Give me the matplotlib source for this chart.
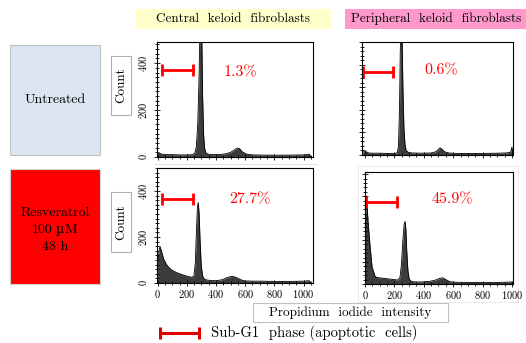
import numpy as np
import matplotlib
matplotlib.use("Agg")
import matplotlib.pyplot as plt
from matplotlib.patches import Rectangle
from matplotlib.ticker import MultipleLocator

plt.rcParams['font.family'] = ['cmr10', 'DejaVu Serif']
plt.rcParams['axes.formatter.use_mathtext'] = True

W, H = 526, 343

# PI histograms (channel, count)
central_ctrl_x = [0, 10, 30, 60, 100, 150, 200, 240, 255, 265, 275, 283, 290, 295, 302, 308, 315, 322,
                  330, 345, 380, 430, 470, 500, 525, 545, 560, 580, 610, 650, 720, 800, 900, 1000, 1040, 1050]
central_ctrl_y = [12, 16, 12, 10, 10, 9, 9, 10, 18, 45, 150, 330, 560, 600, 520, 250, 90, 35,
                  18, 12, 10, 11, 14, 20, 30, 38, 36, 22, 12, 9, 8, 8, 8, 9, 12, 0]

periph_ctrl_x = [-15, 0, 10, 25, 50, 100, 150, 200, 220, 228, 235, 240, 245, 252, 258, 265, 272, 280,
                 295, 320, 380, 450, 480, 500, 510, 520, 540, 570, 620, 700, 800, 900, 960, 990, 1000, 1005]
periph_ctrl_y = [10, 20, 14, 9, 8, 8, 7, 7, 10, 40, 200, 450, 600, 560, 300, 120, 50, 20,
                 12, 9, 8, 9, 14, 25, 32, 28, 15, 9, 7, 7, 7, 8, 9, 12, 35, 0]

central_resv_x = [0, 5, 15, 25, 40, 60, 80, 100, 130, 160, 200, 230, 248, 258, 265, 272, 278, 284, 290,
                  298, 306, 315, 330, 360, 400, 440, 470, 500, 520, 545, 570, 600, 650, 700, 800, 900,
                  1000, 1040, 1050]
central_resv_y = [0, 120, 160, 140, 105, 80, 65, 55, 45, 38, 30, 25, 30, 90, 220, 330, 350, 300, 190,
                  80, 35, 20, 14, 11, 10, 14, 22, 28, 28, 22, 14, 9, 8, 8, 7, 7, 8, 10, 0]

periph_resv_x = [0, 3, 8, 12, 20, 35, 48, 68, 80, 100, 150, 200, 225, 238, 248, 258, 266, 272, 278, 284,
                 292, 300, 310, 330, 380, 440, 480, 510, 530, 550, 580, 620, 700, 800, 900, 1000, 1005]
periph_resv_y = [0, 300, 400, 380, 290, 168, 77, 36, 30, 28, 24, 20, 18, 30, 90, 200, 270, 285, 250, 150,
                 60, 25, 14, 10, 9, 12, 18, 26, 28, 20, 10, 8, 7, 7, 7, 9, 0]

subg1_pct = ['1.3%', '0.6%', '27.7%', '45.9%']

fig = plt.figure(figsize=(W / 100, H / 100), dpi=100)


def box(x0, y0, x1, y1):
    return [x0 / W, 1 - y1 / H, (x1 - x0) / W, (y1 - y0) / H]


# background layer in pixel coordinates
bg = fig.add_axes([0, 0, 1, 1])
bg.set_xlim(0, W)
bg.set_ylim(H, 0)
bg.axis('off')


def label_box(x0, y0, x1, y1, fc, ec, text, size, rot=0, ls=1.2):
    bg.add_patch(Rectangle((x0, y0), x1 - x0, y1 - y0, facecolor=fc, edgecolor=ec, lw=0.8))
    if text:
        bg.text((x0 + x1) / 2, (y0 + y1) / 2, text, ha='center', va='center', fontsize=size,
                rotation=rot, linespacing=ls)


label_box(136, 9, 331, 29, '#ffffcc', 'none', 'Central  keloid  fibroblasts', 9.5)
label_box(345, 9, 527, 29, '#ff99cc', 'none', 'Peripheral  keloid  fibroblasts', 9.5)
label_box(10, 45, 100, 155, '#dbe5f1', '#c0c0c0', 'Untreated', 10)
label_box(10, 169, 100, 284, '#ff0000', '#d0d0d0', '', 10)
bg.text(55, 216, 'Resveratrol', ha='center', va='baseline', fontsize=10)
bg.text(53, 233, '100', ha='right', va='baseline', fontsize=10)
bg.text(59.5, 233, '\u00b5', ha='center', va='baseline', fontsize=9, family='DejaVu Serif')
bg.text(64.5, 233, 'M', ha='left', va='baseline', fontsize=10)
bg.text(55, 250, '48 h', ha='center', va='baseline', fontsize=10)
label_box(111, 56, 131, 115, 'white', '#b0b0b0', 'Count', 9.5, rot=90)
label_box(111, 192, 131, 252, 'white', '#b0b0b0', 'Count', 9.5, rot=90)
label_box(253, 303, 448, 322, 'white', '#c0c0c0', 'Propidium  iodide  intensity', 9.5)

# faint picture frames around panels
bg.plot([155, 317], [164, 164], color='#e0e0e0', lw=0.7)
bg.add_patch(Rectangle((358, 166), 160, 136, facecolor='none', edgecolor='#ebebeb', lw=0.7))

# legend
bg.plot([160, 199], [333, 333], color='#e00000', lw=2.2, marker='|', ms=9, mew=2.2)
bg.text(211, 333, 'Sub-G1  phase (apoptotic  cells)', ha='left', va='center', fontsize=10.5)

panels = [
    (box(157, 42, 313, 157), central_ctrl_x, central_ctrl_y, (-5, 1065), 490, 200, True, False,
     (27, 240, 370), (568, 362)),
    (box(362, 42, 513, 155), periph_ctrl_x, periph_ctrl_y, (-20, 1007), 500, 100, False, False,
     (-14, 190, 367), (517, 376)),
    (box(157, 168, 313, 283), central_resv_x, central_resv_y, (-5, 1065), 500, 200, True, True,
     (27, 240, 365), (630, 365)),
    (box(365, 172, 513, 284), periph_resv_x, periph_resv_y, (0, 1007), 510, 100, False, True,
     (7, 218, 373), (592, 387)),
]

for i, (rect, xs, ys, xl, ytop, ymaj, ylab, xlab, bar, txt) in enumerate(panels):
    ax = fig.add_axes(rect)
    ax.fill_between(xs, ys, 0, color='#3c3c3c', lw=0)
    ax.plot(xs, ys, color='black', lw=0.6)
    ax.set_xlim(*xl)
    ax.set_ylim(0, ytop)
    ax.xaxis.set_major_locator(MultipleLocator(200))
    ax.xaxis.set_minor_locator(MultipleLocator(50))
    ax.yaxis.set_major_locator(MultipleLocator(ymaj))
    ax.yaxis.set_minor_locator(MultipleLocator(20))
    ax.tick_params(which='both', direction='inout', top=False, right=False, width=0.6,
                   labelsize=7.5, pad=1.5)
    ax.tick_params(which='major', length=4)
    ax.tick_params(which='minor', length=2.5)
    for s in ax.spines.values():
        s.set_linewidth(0.8)
    if ylab:
        ax.set_yticks([0, 200, 400])
        plt.setp(ax.get_yticklabels(), rotation=90, va='center')
        ax.tick_params(axis='y', pad=4)
    else:
        ax.set_yticklabels([])
    if not xlab:
        ax.set_xticklabels([])
    ax.plot([bar[0], bar[1]], [bar[2], bar[2]], color='#ff0000', lw=2, marker='|', ms=8, mew=2)
    ax.text(txt[0], txt[1], subg1_pct[i], color='#ff0000', fontsize=11.5, ha='center', va='center')

fig.savefig('out.png', dpi=100)
